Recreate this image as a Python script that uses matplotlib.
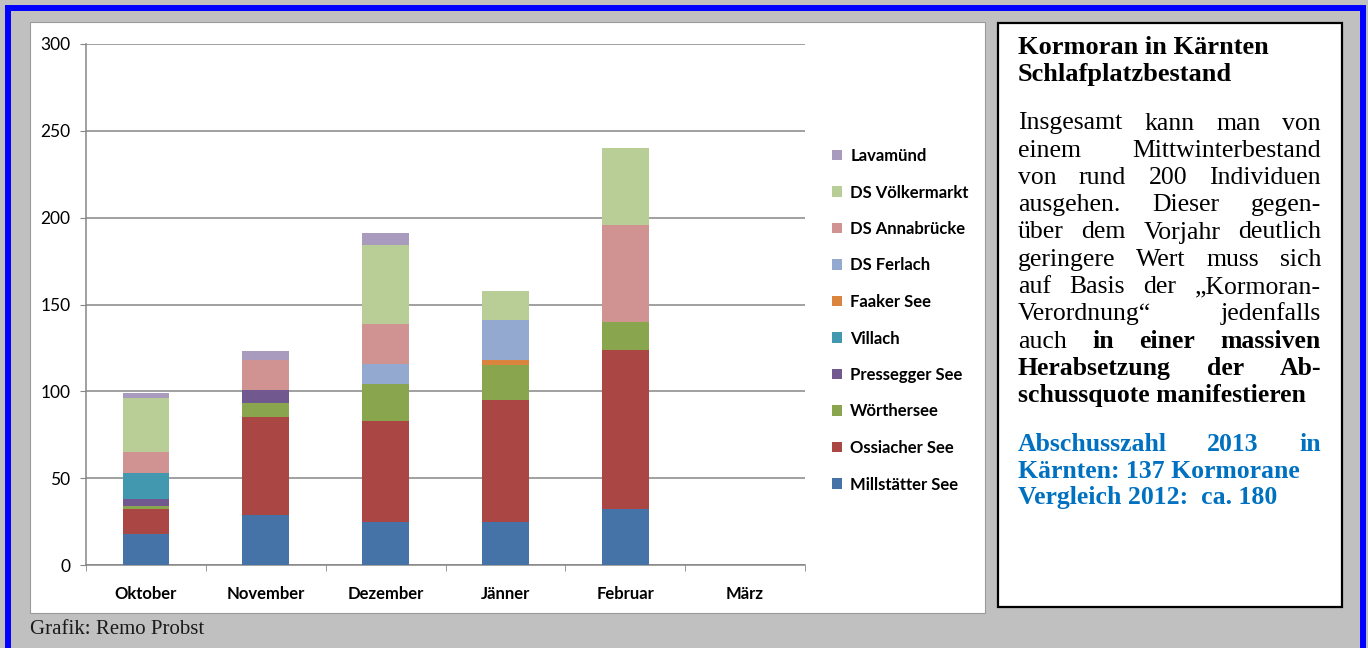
import matplotlib
matplotlib.use('Agg')
import matplotlib.pyplot as plt
from matplotlib.patches import Rectangle
import numpy as np

W, H = 1368, 648

# Kormoran-Schlafplätze in Kärnten, Zählungen Oktober bis März
months = ['Oktober', 'November', 'Dezember', 'Jänner', 'Februar', 'März']
millstaetter = [18, 29, 25, 25, 32, 0]
ossiacher = [14, 56, 58, 70, 92, 0]
woerthersee = [2, 8, 21, 20, 16, 0]
pressegger = [4, 8, 0, 0, 0, 0]
villach = [15, 0, 0, 0, 0, 0]
faaker = [0, 0, 0, 3, 0, 0]
ferlach = [0, 0, 12, 23, 0, 0]
annabruecke = [12, 17, 23, 0, 56, 0]
voelkermarkt = [31, 0, 45, 17, 44, 0]
lavamuend = [3, 5, 7, 0, 0, 0]

series = [
    ('Millstätter See', millstaetter, '#4572A7'),
    ('Ossiacher See', ossiacher, '#AA4643'),
    ('Wörthersee', woerthersee, '#89A54E'),
    ('Pressegger See', pressegger, '#71588F'),
    ('Villach', villach, '#4198AF'),
    ('Faaker See', faaker, '#DB843D'),
    ('DS Ferlach', ferlach, '#93A9CF'),
    ('DS Annabrücke', annabruecke, '#D19392'),
    ('DS Völkermarkt', voelkermarkt, '#B9CD96'),
    ('Lavamünd', lavamuend, '#A99BBD'),
]


# helpers: pixel position (from top left) -> figure fraction
def fx(x):
    return x / W


def fy(y):
    return 1 - y / H


fig = plt.figure(figsize=(W / 100, H / 100), dpi=100)
fig.patch.set_facecolor('#C0C0C0')

# blue outer frame, white chart panel, text box (behind the axes)
fig.add_artist(Rectangle((fx(8), fy(680)), fx(1362.5) - fx(8), fy(8) - fy(680),
                         transform=fig.transFigure, fill=False,
                         edgecolor='#0000FF', linewidth=4.3, zorder=-5))
fig.add_artist(Rectangle((fx(30), fy(613)), fx(985) - fx(30), fy(22) - fy(613),
                         transform=fig.transFigure, facecolor='white',
                         edgecolor='#9a9a9a', linewidth=0.8, zorder=-5))
fig.add_artist(Rectangle((fx(998), fy(607)), fx(1342) - fx(998), fy(23) - fy(607),
                         transform=fig.transFigure, facecolor='white',
                         edgecolor='black', linewidth=1.6, zorder=-5))

# stacked bar chart
ax = fig.add_axes([fx(86), fy(565), fx(805) - fx(86), fy(44) - fy(565)])
ax.set_facecolor('none')
x = np.arange(len(months))
bottom = np.zeros(len(months))
handles = []
for name, vals, col in series:
    vals = np.array(vals, dtype=float)
    b = ax.bar(x, vals, width=0.39, bottom=bottom, color=col, linewidth=0,
               label=name, zorder=3)
    handles.append(b)
    bottom += vals

ax.set_xlim(-0.5, len(months) - 0.5)
ax.set_ylim(0, 300)
ax.set_yticks(np.arange(0, 301, 50))
ax.set_xticks(x)
ax.set_xticklabels(months, fontfamily='Lato', fontweight='bold', fontsize=12)
ax.set_xticks(np.arange(len(months) + 1) - 0.5, minor=True)
for lbl in ax.get_yticklabels():
    lbl.set_fontfamily('Lato')
    lbl.set_fontsize(12.5)

ax.grid(axis='y', color='#868686', linewidth=1.1, zorder=0)
ax.set_axisbelow(True)
for s in ['top', 'right']:
    ax.spines[s].set_visible(False)
for s in ['left', 'bottom']:
    ax.spines[s].set_color('#868686')
    ax.spines[s].set_linewidth(1.1)
ax.tick_params(axis='y', direction='out', length=4.3, color='#868686', pad=7)
ax.tick_params(axis='x', which='major', length=0, pad=15)
ax.tick_params(axis='x', which='minor', direction='out', length=4.3,
               color='#868686')

leg = ax.legend(handles[::-1], [s[0] for s in series][::-1],
                loc='upper left', bbox_to_anchor=(fx(832), fy(148)),
                bbox_transform=fig.transFigure, frameon=False,
                prop={'family': 'Lato', 'weight': 'bold', 'size': 12},
                handlelength=0.6, handleheight=0.6, handletextpad=0.5,
                labelspacing=1.23, borderpad=0, borderaxespad=0)

fig.text(fx(30), fy(634), 'Grafik: Remo Probst', fontfamily='Liberation Serif',
         fontsize=15, color='#1a1a1a', va='baseline')

# text box with justified lines
renderer = fig.canvas.get_renderer()
X0, X1 = 1018, 1321
serif = 'Liberation Serif'


def put_line(words, base, justify, color='black', size=18.5):
    texts = []
    for w, wt in words:
        t = fig.text(0, fy(base), w, fontfamily=serif, fontsize=size,
                     fontweight=wt, color=color, va='baseline', ha='left')
        texts.append(t)
    widths = [t.get_window_extent(renderer).width for t in texts]
    if justify and len(texts) > 1:
        gap = (X1 - X0 - sum(widths)) / (len(texts) - 1)
    else:
        gap = size * 100 / 72 * 0.25
    pos = X0
    for t, wd in zip(texts, widths):
        t.set_x(fx(pos))
        pos += wd + gap


N, B = 'normal', 'bold'
put_line([('Kormoran in Kärnten', B)], 54.5, False, size=19)
put_line([('Schlafplatzbestand', B)], 81, False, size=19)

body = [
    ([('Insgesamt', N), ('kann', N), ('man', N), ('von', N)], True),
    ([('einem', N), ('Mittwinterbestand', N)], True),
    ([('von', N), ('rund', N), ('200', N), ('Individuen', N)], True),
    ([('ausgehen.', N), ('Dieser', N), ('gegen-', N)], True),
    ([('über', N), ('dem', N), ('Vorjahr', N), ('deutlich', N)], True),
    ([('geringere', N), ('Wert', N), ('muss', N), ('sich', N)], True),
    ([('auf', N), ('Basis', N), ('der', N), ('„Kormoran-', N)], True),
    ([('Verordnung“', N), ('jedenfalls', N)], True),
    ([('auch', N), ('in', B), ('einer', B), ('massiven', B)], True),
    ([('Herabsetzung', B), ('der', B), ('Ab-', B)], True),
    ([('schussquote manifestieren', B)], False),
]
for i, (words, just) in enumerate(body):
    put_line(words, 129.5 + 27.25 * i, just)

blue = '#0070C0'
put_line([('Abschusszahl', B), ('2013', B), ('in', B)], 451, True, blue)
put_line([('Kärnten: 137 Kormorane', B)], 477.7, False, blue)
put_line([('Vergleich 2012:  ca. 180', B)], 504.3, False, blue)

fig.savefig('out.png', dpi=100, facecolor=fig.get_facecolor())
